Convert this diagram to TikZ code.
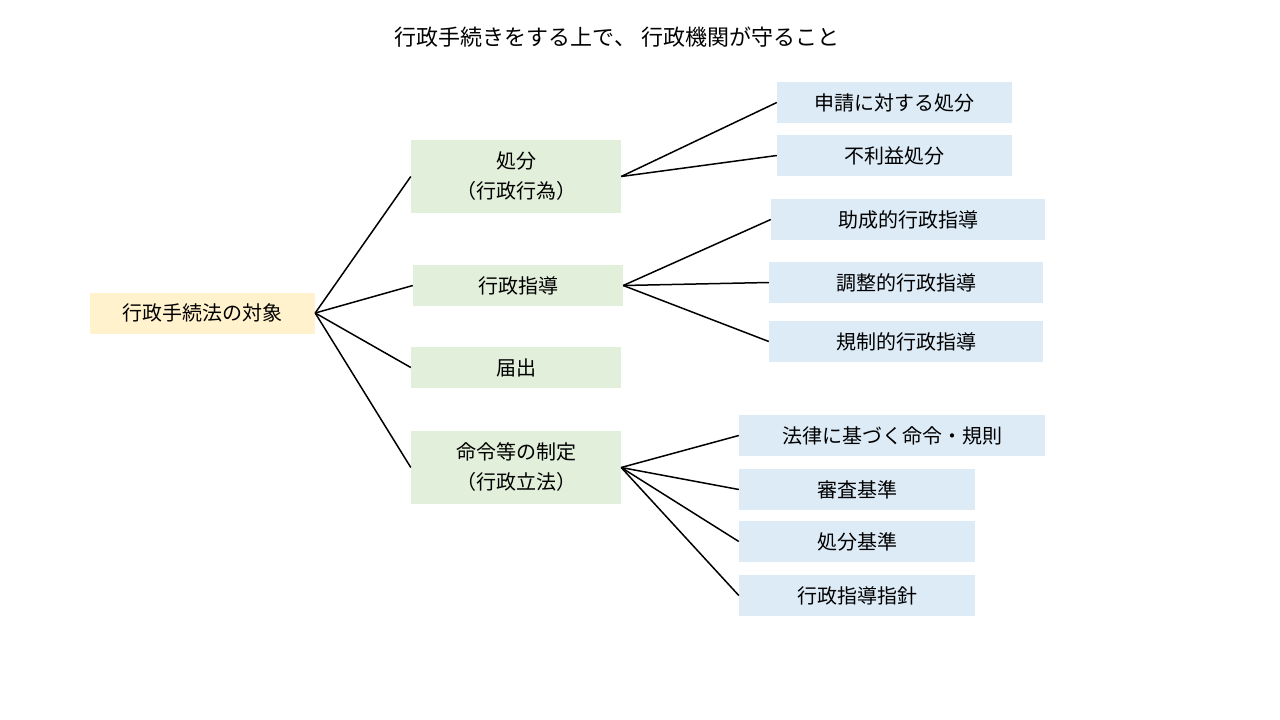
\documentclass[tikz,border=0pt]{standalone}
\usepackage{fontspec}
\setmainfont{Noto Sans CJK JP}
\definecolor{cr}{HTML}{FFF2CC}
\definecolor{cg}{HTML}{E2EFDA}
\definecolor{cb}{HTML}{DDEBF7}
\begin{document}
\begin{tikzpicture}[x=1pt,y=-1pt,
 box/.style={draw=none,minimum height=41pt,inner sep=0pt,align=center,font=\fontsize{20}{30}\selectfont},
 root/.style={box,fill=cr,minimum width=225pt},
 l1/.style={box,fill=cg,minimum width=210pt},
 l2/.style={box,fill=cb,minimum width=#1pt},
 ln/.style={line width=1.5pt}]
\useasboundingbox (0,0) rectangle (1280,720);
\node[font=\fontsize{22}{24}\selectfont] (t) at (617,37) {行政手続きをする上で、 行政機関が守ること};
\node[root] (r) at (202.5,313) {行政手続法の対象};
\node[l1,minimum height=73pt] (a) at (516,176.5) {処分\\（行政行為）};
\node[l1] (b) at (518,285.5) {行政指導};
\node[l1] (c) at (516,367.5) {届出};
\node[l1,minimum height=73pt] (d) at (516,467.5) {命令等の制定\\（行政立法）};
\node[l2=235] (a1) at (894.5,102.5) {申請に対する処分};
\node[l2=235] (a2) at (894.5,155.5) {不利益処分};
\node[l2=274] (b1) at (908,219.5) {助成的行政指導};
\node[l2=274] (b2) at (906,282.5) {調整的行政指導};
\node[l2=274] (b3) at (906,341.5) {規制的行政指導};
\node[l2=306] (d1) at (892,435.5) {法律に基づく命令・規則};
\node[l2=236] (d2) at (857,489.5) {審査基準};
\node[l2=236] (d3) at (857,541.5) {処分基準};
\node[l2=236] (d4) at (857,595.5) {行政指導指針};
\foreach \n in {a,b,c,d} \draw[ln] (r.east) -- (\n.west);
\foreach \n in {a1,a2} \draw[ln] (a.east) -- (\n.west);
\foreach \n in {b1,b2,b3} \draw[ln] (b.east) -- (\n.west);
\foreach \n in {d1,d2,d3,d4} \draw[ln] (d.east) -- (\n.west);
\end{tikzpicture}
\end{document}
